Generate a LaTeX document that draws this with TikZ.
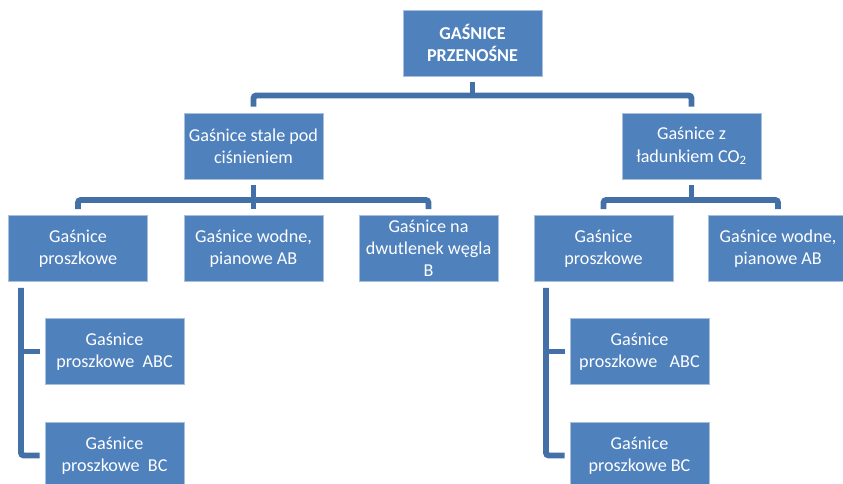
\documentclass[tikz,border=0pt]{standalone}
\usepackage{fontspec}
\setmainfont{Carlito}
\definecolor{boxblue}{HTML}{4F81BD}
\definecolor{linkblue}{HTML}{4470A8}
\tikzset{
  box/.style={rectangle, fill=boxblue, draw=boxblue!50!white, line width=0.5pt,
    text=white, align=center, minimum width=3.475cm, minimum height=1.65cm,
    inner sep=1pt, font=\fontsize{12.9}{15.8}\selectfont},
  conn/.style={draw=linkblue, line width=4.2pt, rounded corners=2pt},
  gap/.style={shorten <=0.15cm},
}

\begin{document}
\begin{tikzpicture}[x=0.025cm, y=-0.025cm]
  \clip (0,0) rectangle (843,484);
  % boxes
  \node[box, font=\bfseries\fontsize{12.9}{15.8}\selectfont] (top) at (472.5,43) {GAŚNICE\\PRZENOŚNE};
  \node[box] (gs) at (253.5,146) {Gaśnice stale pod\\ciśnieniem};
  \node[box] (gc) at (691.5,146) {Gaśnice z\\ładunkiem CO\textsubscript{2}};
  \node[box] (p1) at (78,248.5) {Gaśnice\\proszkowe};
  \node[box] (wo1) at (253.5,248.5) {Gaśnice wodne,\\pianowe AB};
  \node[box] (dw) at (428.5,248.5) {Gaśnice na\\dwutlenek węgla\\B};
  \node[box] (p2) at (603.5,248.5) {Gaśnice\\proszkowe};
  \node[box] (wo2) at (778,248.5) {Gaśnice wodne,\\pianowe AB};
  \node[box] (p1a) at (114.5,351.5) {Gaśnice\\proszkowe\ \ ABC};
  \node[box] (p1b) at (114.5,455.5) {Gaśnice\\proszkowe\ \ BC};
  \node[box] (p2a) at (639.5,351.5) {Gaśnice\\proszkowe\ \ \ ABC};
  \node[box] (p2b) at (639.5,455.5) {Gaśnice\\proszkowe BC};
  % connectors
  \coordinate (b1) at (472.5,95.5);
  \draw[conn, gap] (top.south) -- (b1);
  \draw[conn, gap, shorten >=0.15cm] (gs.north) |- (b1) -| (gc.north);
  \coordinate (b2) at (253.5,200);
  \draw[conn, gap] (gs.south) -- (b2);
  \draw[conn, gap, shorten >=0.15cm] (p1.north) |- (b2) -| (dw.north);
  \draw[conn, shorten >=0.15cm] (b2) -- (wo1.north);
  \coordinate (b3) at (691.5,200);
  \draw[conn, gap] (gc.south) -- (b3);
  \draw[conn, gap, shorten >=0.15cm] (p2.north) |- (b3) -| (wo2.north);
  \coordinate (v1) at (21,288);
  \draw[conn, shorten >=0.125cm] (v1) |- (p1b.west);
  \draw[conn, shorten >=0.125cm] (v1 |- p1a.west) -- (p1a.west);
  \coordinate (v2) at (546,288);
  \draw[conn, shorten >=0.125cm] (v2) |- (p2b.west);
  \draw[conn, shorten >=0.125cm] (v2 |- p2a.west) -- (p2a.west);
\end{tikzpicture}
\end{document}
